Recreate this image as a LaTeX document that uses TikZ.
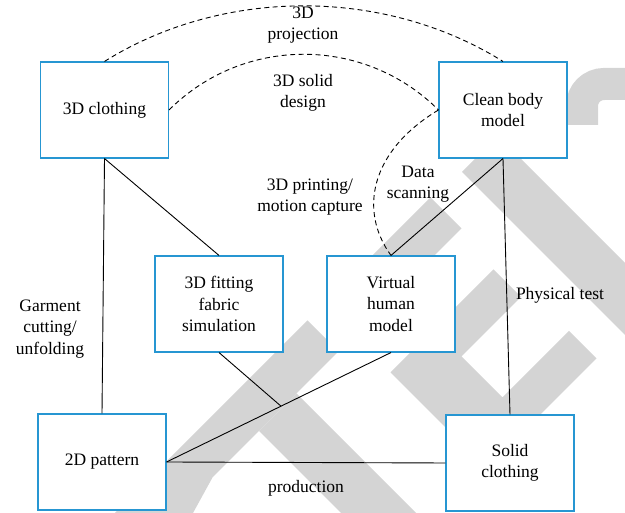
\documentclass[tikz,border=0pt]{standalone}
\usepackage{fontspec}
\setmainfont{Liberation Serif}
\usetikzlibrary{calc}
\definecolor{boxblue}{RGB}{38,150,210}
\definecolor{wmgray}{RGB}{212,212,212}

\begin{document}
\begin{tikzpicture}[
    x=1pt, y=1pt,
    every node/.style={font=\fontsize{17.5}{21.6}\selectfont},
    box/.style={rectangle, draw=boxblue, fill=white, line width=1.1pt, minimum width=128pt, minimum height=96pt, align=center, inner sep=2pt},
    lbl/.style={align=center, inner sep=0pt},
    link/.style={line width=0.9pt, black},
    dashlink/.style={line width=0.9pt, black, dash pattern=on 5pt off 3.5pt},
    wmark/.style={fill=wmgray}
]
\useasboundingbox (0,0) rectangle (625,513);

% ==================== BACKGROUND WATERMARK ====================
\begin{scope}
\clip (0,0) rectangle (625,513);
\fill[wmark] (462,341) -- (498,377) -- (881,-6) -- (845,-42) -- cycle;
\fill[wmark] (344,229) -- (430.5,315.5) -- (461.5,284.5) -- (375,198) -- cycle;
\fill[wmark] (307.5,192.5) -- (338.5,161.5) -- (212.5,35.5) -- (193,0) -- (115,0) -- cycle;
\fill[wmark] (296.5,119.5) -- (259,82) -- (464,-123) -- (501.5,-85.5) -- cycle;
\fill[wmark] (493.5,243.5) -- (390.5,140.5) -- (486.5,44.5) -- (596.5,154.5) -- (569,182) -- (502.5,115.5) -- (461.5,156.5) -- (521,216) -- cycle;
\end{scope}
\begin{scope}
\clip (560,388) rectangle (625,513);
\draw[wmgray, line width=32pt, rounded corners=22pt] (582,370) |- (660,429);
\end{scope}

% ==================== MODEL BOXES ====================
\node[box] (clothing) at (104.5,403) {3D clothing};
\node[box] (cleanbody) at (503,403) {Clean body\\model};
\node[box] (fitting) at (219,209) {3D fitting\\fabric\\simulation};
\node[box] (virtual) at (391,209) {Virtual\\human\\model};
\node[box] (pattern) at (102,51) {2D pattern};
\node[box] (solid) at (510,50) {Solid\\clothing};

% ==================== PROCESS LABELS ====================
\node[lbl] (l_proj) at (303,488) {3D\\projection};
\node[lbl] (l_design) at (303,420) {3D solid\\design};
\node[lbl] (l_print) at (310,316) {3D printing/\\motion capture};
\node[lbl] (l_scan) at (418,329) {Data\\scanning};
\node[lbl] (l_cut) at (50,184) {Garment\\cutting/\\unfolding};
\node[lbl] (l_test) at (560,218) {Physical test};
\node[lbl] (l_prod) at (306,25) {production};

% ==================== SOLID LINKS ====================
\draw[link] (clothing.south) -- (pattern.north);
\draw[link] (clothing.south) -- (fitting.north);
\draw[link] (cleanbody.south) -- (virtual.north);
\draw[link] (cleanbody.south) -- (solid.north);
\draw[link] (pattern.east) -- (virtual.south);
\draw[link] (pattern.east) -- (solid.west);
\coordinate (meet) at ($(pattern.east)!0.51!(virtual.south)$);
\draw[link] (fitting.south) -- (meet);

% ==================== DASHED LINKS ====================
\draw[dashlink] (clothing.north) to[bend left=32, looseness=0.9] (cleanbody.north);
\draw[dashlink] (clothing.east) to[bend left=45] (cleanbody.west);
\draw[dashlink] (cleanbody.west) .. controls +(211:80) and +(126:55) .. (virtual.north);

\end{tikzpicture}
\end{document}
